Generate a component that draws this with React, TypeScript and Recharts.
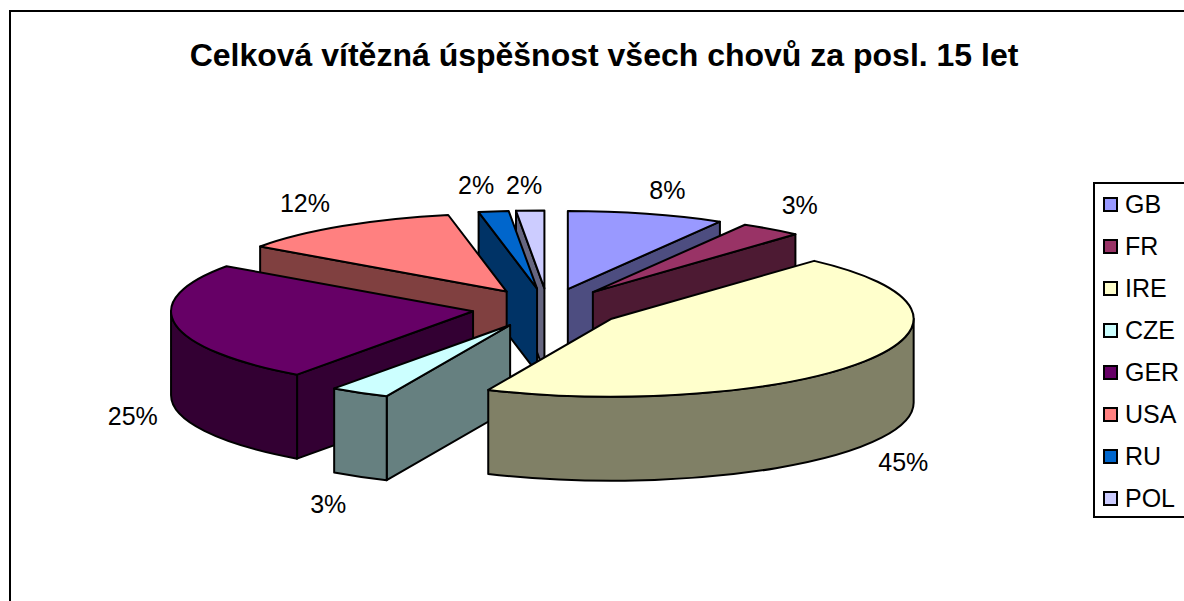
import { PieChart, Pie, Legend } from 'recharts';

const categories = ['GB', 'FR', 'IRE', 'CZE', 'GER', 'USA', 'RU', 'POL'];
const shares = [8.4, 3.3, 45, 3.2, 24.9, 12.1, 1.6, 1.5];
const topColors = ['#9999FF', '#993366', '#FFFFCC', '#CCFFFF', '#660066', '#FF8080', '#0066CC', '#CCCCFF'];
const sideColors = ['#4D4D80', '#4D1A33', '#808066', '#668080', '#330033', '#804040', '#003366', '#666680'];
// back to front, the same order the 3D pie is painted in
const paintOrder = ['POL', 'RU', 'GB', 'USA', 'FR', 'GER', 'CZE', 'IRE'];
// small hand shifts for the percent labels
const labelNudges = [[9, 0], [2, -4], [1, 3], [-9, 6], [2, 4], [-13, -2], [-11, -2], [-4, -1]];

const data = categories.map((name, i) => ({ name, value: shares[i], top: topColors[i], side: sideColors[i] }));

const W = 1184;
const H = 601;
const CX = 548;
const CY = 308;
const RX = 302;
const RY = 78;
const DEPTH = 84;
const EXPLODE = 76;

const rad = (deg: number) => (deg * Math.PI) / 180;

// clock angle (0 = 12 o'clock, clockwise) to a point on the squashed circle
function apexOf(cx: number, cy: number, clock: number) {
  return {
    x: cx + Math.sin(rad(clock)) * EXPLODE,
    y: cy - (Math.cos(rad(clock)) * EXPLODE * RY) / RX,
  };
}

function rim(ax: number, ay: number, clock: number, rx: number, ry: number) {
  return { x: ax + Math.sin(rad(clock)) * rx, y: ay - Math.cos(rad(clock)) * ry };
}

const Wedge = (props: any) => {
  const { cx, cy, outerRadius, startAngle, endAngle, payload } = props;
  const from = 90 - startAngle;
  const to = 90 - endAngle;
  const apex = apexOf(cx, cy, (from + to) / 2);
  const ry = (outerRadius * RY) / RX;
  const a = rim(apex.x, apex.y, from, outerRadius, ry);
  const b = rim(apex.x, apex.y, to, outerRadius, ry);
  const line = { stroke: '#000', strokeWidth: 2, strokeLinejoin: 'round' as const };
  const arc = (p: { x: number; y: number }, sweep: number, big = 0) =>
    `A ${outerRadius} ${ry} 0 ${big} ${sweep} ${p.x} ${p.y}`;

  // front part of the rim, between 3 and 9 o'clock
  const f0 = Math.max(from, 90);
  const f1 = Math.min(to, 270);
  let front = null;
  if (f1 > f0) {
    const p = rim(apex.x, apex.y, f0, outerRadius, ry);
    const q = rim(apex.x, apex.y, f1, outerRadius, ry);
    front = (
      <path
        d={`M ${p.x} ${p.y} ${arc(q, 1)} L ${q.x} ${q.y + DEPTH} A ${outerRadius} ${ry} 0 0 0 ${p.x} ${p.y + DEPTH} Z`}
        fill={payload.side}
        {...line}
      />
    );
  }
  // a cut face shows only when its outward side points at the viewer
  const cut = (p: { x: number; y: number }) => (
    <path
      d={`M ${apex.x} ${apex.y} L ${p.x} ${p.y} L ${p.x} ${p.y + DEPTH} L ${apex.x} ${apex.y + DEPTH} Z`}
      fill={payload.side}
      {...line}
    />
  );
  const big = to - from > 180 ? 1 : 0;
  return (
    <g>
      {Math.cos(rad(from - 90)) < 0 && cut(a)}
      {Math.cos(rad(to + 90)) < 0 && cut(b)}
      {front}
      <path d={`M ${apex.x} ${apex.y} L ${a.x} ${a.y} ${arc(b, 1, big)} Z`} fill={payload.top} {...line} />
    </g>
  );
};

const renderLabel = (props: any) => {
  const { cx, cy, midAngle, percent, outerRadius, index } = props;
  const clock = 90 - midAngle;
  const apex = apexOf(cx, cy, clock);
  const ry = (outerRadius * RY) / RX;
  const p = rim(apex.x, apex.y, clock, outerRadius + 45, ry + 25);
  const y = Math.cos(rad(clock)) < 0 ? p.y + DEPTH : p.y;
  const [nx, ny] = labelNudges[index];
  return (
    <text x={p.x + nx} y={y + ny} textAnchor="middle" dominantBaseline="central" fontSize={25} fill="#000" fontFamily="'Liberation Sans', Arial, sans-serif">
      {`${Math.round(percent * 100)}%`}
    </text>
  );
};

const LegendBox = () => (
  <div style={{ width: 100, height: 336, boxSizing: 'border-box', border: '2px solid #000', borderRight: 'none', background: '#fff', position: 'relative' }}>
    {categories.map((name, i) => (
      <div key={name} style={{ position: 'absolute', left: 8, top: 7 + i * 42, height: 26, display: 'flex', alignItems: 'center' }}>
        <span style={{ width: 15, height: 15, boxSizing: 'border-box', border: '2px solid #000', background: topColors[i], marginRight: 7 }} />
        <span style={{ fontSize: 25, lineHeight: '26px', color: '#000' }}>{name}</span>
      </div>
    ))}
  </div>
);

export default function App() {
  return (
    <div style={{ position: 'absolute', left: 0, top: 0, width: W, height: H, overflow: 'hidden', background: '#fff', fontFamily: "'Liberation Sans', Arial, sans-serif" }}>
      {/* chart frame runs off the right and bottom of the picture */}
      <div style={{ position: 'absolute', left: 9, top: 10, width: W, height: H, border: '2px solid #000' }} />
      <div style={{ position: 'absolute', left: 0, top: 37, width: 1208, textAlign: 'center', fontSize: 32, fontWeight: 700, color: '#000' }}>
        Celková vítězná úspěšnost všech chovů za posl. 15 let
      </div>
      <div style={{ position: 'absolute', left: 0, top: 0 }}>
        <PieChart width={W} height={H} margin={{ top: 0, right: 0, bottom: 0, left: 0 }}>
          {paintOrder.map((name, i) => (
            <Pie
              key={name}
              data={data}
              dataKey="value"
              nameKey="name"
              cx={CX}
              cy={CY}
              outerRadius={RX}
              startAngle={90}
              endAngle={-270}
              isAnimationActive={false}
              legendType="none"
              shape={(p: any) => (p.name === name ? <Wedge {...p} /> : <g />)}
              label={i === paintOrder.length - 1 ? renderLabel : false}
              labelLine={false}
            />
          ))}
          <Legend content={<LegendBox />} layout="vertical" wrapperStyle={{ position: 'absolute', left: 1093, top: 182, width: 100, margin: 0 }} />
        </PieChart>
      </div>
    </div>
  );
}
